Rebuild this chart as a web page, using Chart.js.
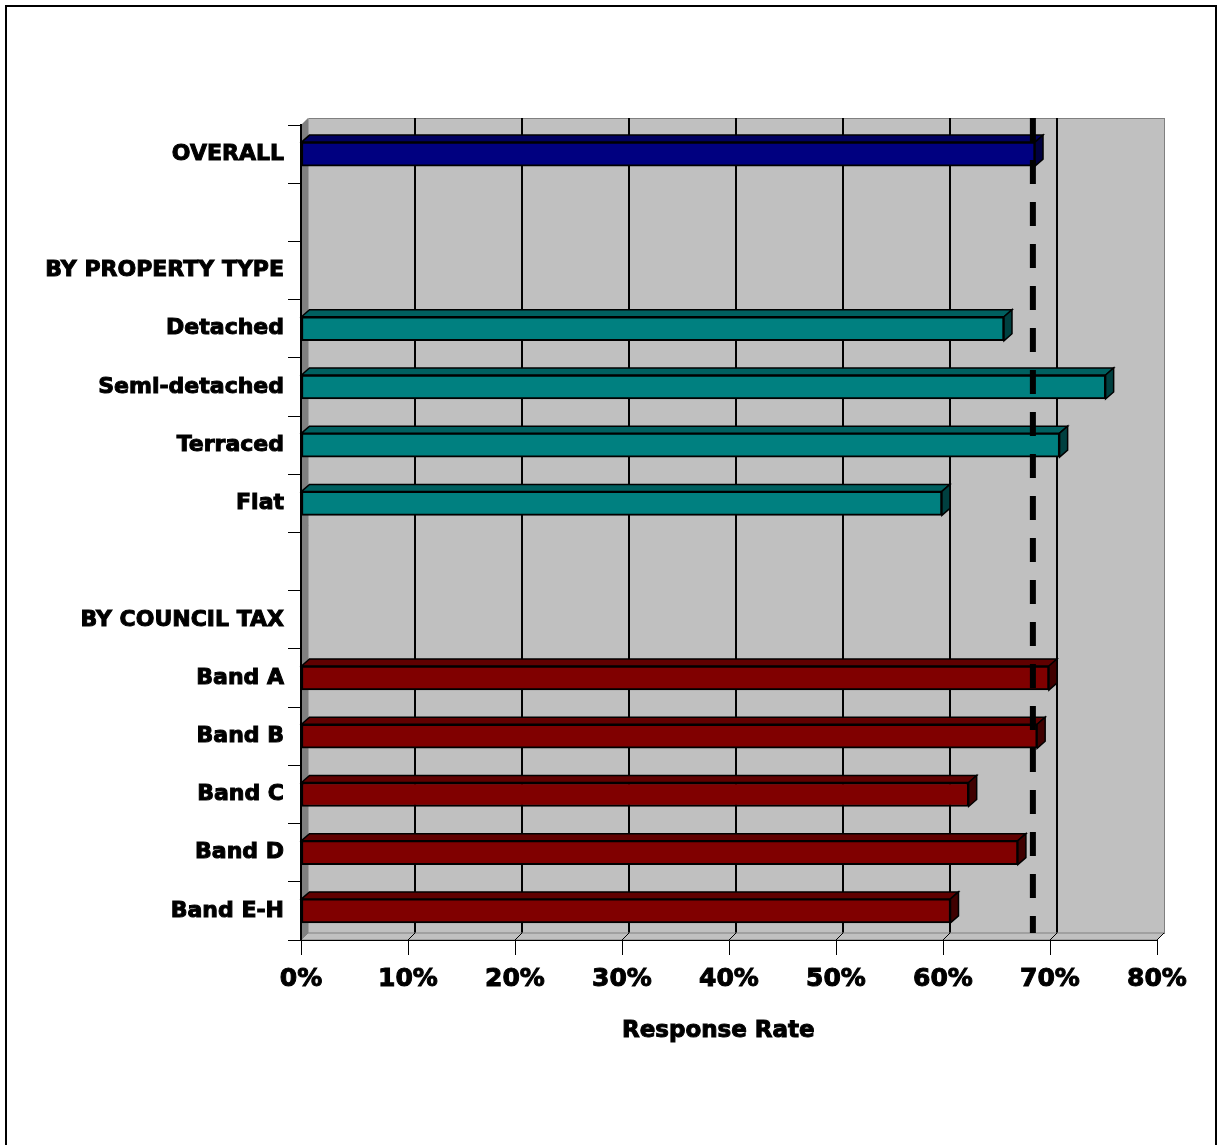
<!DOCTYPE html>
<html>
<head>
<meta charset="utf-8">
<script src="https://cdn.jsdelivr.net/npm/chart.js@4.4.1/dist/chart.umd.min.js"></script>
<style>
  html, body { margin: 0; padding: 0; background: #ffffff; }
  #wrap { width: 1218px; height: 1145px; position: relative; }
</style>
</head>
<body>
<div id="wrap"><canvas id="chart" width="1218" height="1145"></canvas></div>
<script>
// Response rates by group (percent); blank rows separate the sections
const categories = ['OVERALL', '', 'BY PROPERTY TYPE', 'Detached', 'Semi-detached', 'Terraced', 'Flat',
                    '', 'BY COUNCIL TAX', 'Band A', 'Band B', 'Band C', 'Band D', 'Band E-H'];
const responseRates = [68.6, null, null, 65.7, 75.2, 70.9, 59.9, null, null, 69.9, 68.8, 62.4, 67.0, 60.7];
const rowGroups = ['overall', null, null, 'property', 'property', 'property', 'property',
                   null, null, 'tax', 'tax', 'tax', 'tax', 'tax'];
const xTickValues = [0, 10, 20, 30, 40, 50, 60, 70, 80];
const overallRate = 68.4;   // reference line across all rows
const xAxisTitle = 'Response Rate';

// Face colours for the extruded bars: front, top, side
const groupColours = {
  overall:  { front: '#000080', top: '#000060', side: '#000040' },
  property: { front: '#008080', top: '#006060', side: '#004040' },
  tax:      { front: '#800000', top: '#600000', side: '#400000' }
};

const WALL_DX = 7, WALL_DY = 7;   // depth of the plot box
const BAR_DX = 8, BAR_DY = 7;     // depth of each bar
const FONT_FAMILY = "'DejaVu Sans', Verdana, sans-serif";

Chart.defaults.font.family = FONT_FAMILY;
Chart.defaults.color = '#000000';

const boxPlugin = {
  id: 'box3d',
  beforeDraw(chart) {
    const ctx = chart.ctx;
    const { left: L, top: T, right: R, bottom: B } = chart.chartArea;
    const xs = chart.scales.x;
    ctx.save();
    ctx.fillStyle = '#ffffff';
    ctx.fillRect(0, 0, chart.width, chart.height);
    // outer frame
    ctx.strokeStyle = '#000000';
    ctx.lineWidth = 2;
    ctx.strokeRect(6, 6, 1210, 1160);

    // back wall
    ctx.fillStyle = '#c0c0c0';
    ctx.fillRect(L + WALL_DX, T - WALL_DY, R - L, B - T);
    ctx.strokeStyle = '#808080';
    ctx.lineWidth = 1;
    ctx.strokeRect(L + WALL_DX + 0.5, T - WALL_DY + 0.5, R - L, B - T);

    // gridlines on the back wall
    ctx.strokeStyle = '#000000';
    ctx.lineWidth = 2;
    xTickValues.forEach(v => {
      if (v === 0 || v === 80) return;
      const xf = xs.getPixelForValue(v);
      ctx.beginPath();
      ctx.moveTo(xf + WALL_DX, T - WALL_DY);
      ctx.lineTo(xf + WALL_DX, B - WALL_DY);
      ctx.stroke();
    });

    // left side wall
    ctx.fillStyle = '#808080';
    ctx.beginPath();
    ctx.moveTo(L, T); ctx.lineTo(L + WALL_DX, T - WALL_DY);
    ctx.lineTo(L + WALL_DX, B - WALL_DY); ctx.lineTo(L, B);
    ctx.closePath(); ctx.fill();
    ctx.strokeStyle = '#a0a0a0';
    ctx.lineWidth = 1;
    ctx.beginPath();
    ctx.moveTo(L + WALL_DX + 0.5, T - WALL_DY); ctx.lineTo(L + WALL_DX + 0.5, B - WALL_DY);
    ctx.stroke();

    // floor, with the gridline traces running across it
    ctx.fillStyle = '#c0c0c0';
    ctx.beginPath();
    ctx.moveTo(L, B); ctx.lineTo(L + WALL_DX, B - WALL_DY);
    ctx.lineTo(R + WALL_DX, B - WALL_DY); ctx.lineTo(R, B);
    ctx.closePath(); ctx.fill();
    ctx.strokeStyle = '#808080';
    ctx.stroke();
    ctx.strokeStyle = '#000000';
    ctx.lineWidth = 1;
    xTickValues.forEach(v => {
      if (v === 0) return;
      const xf = xs.getPixelForValue(v);
      ctx.beginPath();
      ctx.moveTo(xf, B); ctx.lineTo(xf + WALL_DX, B - WALL_DY);
      ctx.stroke();
    });
    ctx.restore();
  },
  afterDatasetsDraw(chart) {
    const ctx = chart.ctx;
    const { top: T, bottom: B } = chart.chartArea;
    const meta = chart.getDatasetMeta(0);
    ctx.save();
    ctx.lineJoin = 'miter';
    meta.data.forEach((el, i) => {
      if (responseRates[i] == null) return;
      const c = groupColours[rowGroups[i]];
      const { x, y, base, height } = el.getProps(['x', 'y', 'base', 'height'], true);
      const top = y - height / 2, bot = y + height / 2;
      ctx.lineWidth = 1.5;
      ctx.strokeStyle = '#000000';
      // top face
      ctx.fillStyle = c.top;
      ctx.beginPath();
      ctx.moveTo(base, top); ctx.lineTo(base + BAR_DX, top - BAR_DY);
      ctx.lineTo(x + BAR_DX, top - BAR_DY); ctx.lineTo(x, top);
      ctx.closePath(); ctx.fill(); ctx.stroke();
      // end face
      ctx.fillStyle = c.side;
      ctx.beginPath();
      ctx.moveTo(x, top); ctx.lineTo(x + BAR_DX, top - BAR_DY);
      ctx.lineTo(x + BAR_DX, bot - BAR_DY); ctx.lineTo(x, bot);
      ctx.closePath(); ctx.fill(); ctx.stroke();
    });

    // dashed reference line at the overall rate
    const xd = chart.scales.x.getPixelForValue(overallRate);
    ctx.strokeStyle = '#000000';
    ctx.lineWidth = 6;
    ctx.lineCap = 'butt';
    ctx.setLineDash([24, 18]);
    ctx.beginPath();
    ctx.moveTo(xd, T - WALL_DY);
    ctx.lineTo(xd, B - WALL_DY);
    ctx.stroke();
    ctx.restore();
  },
  afterDraw(chart) {
    // axis title, drawn with the same weight as the tick labels
    const ctx = chart.ctx;
    const xs = chart.scales.x;
    ctx.save();
    ctx.font = 'bold 23px ' + FONT_FAMILY;
    ctx.textAlign = 'center';
    ctx.textBaseline = 'middle';
    ctx.fillStyle = '#000000';
    ctx.strokeStyle = '#000000';
    ctx.lineWidth = 1;
    const tx = xs.getPixelForValue(39);
    ctx.fillText(xAxisTitle, tx, 1031);
    ctx.strokeText(xAxisTitle, tx, 1031);
    ctx.restore();
  }
};

new Chart(document.getElementById('chart'), {
  type: 'bar',
  data: {
    labels: categories,
    datasets: [{
      data: responseRates,
      backgroundColor: rowGroups.map(g => g ? groupColours[g].front : 'transparent'),
      borderColor: '#000000',
      borderWidth: 2,
      borderSkipped: false,
      barThickness: 24
    }]
  },
  options: {
    indexAxis: 'y',
    responsive: false,
    animation: false,
    devicePixelRatio: 1,
    layout: { padding: { left: 0, top: 125, right: 61, bottom: 0 } },
    plugins: { legend: { display: false }, tooltip: { enabled: false } },
    scales: {
      x: {
        min: 0, max: 80,
        afterFit(scale) { scale.height = 205; },
        afterBuildTicks(scale) { scale.ticks = xTickValues.map(v => ({ value: v })); },
        grid: { drawOnChartArea: false, drawTicks: true, tickLength: 15, color: '#000000', lineWidth: 1 },
        border: { display: true, color: '#000000', width: 1 },
        ticks: {
          padding: 9,
          color: '#000000',
          textStrokeColor: '#000000',
          textStrokeWidth: 1,
          font: { size: 25, weight: 'bold' },
          callback: v => v + '%'
        },
        title: { display: false }
      },
      y: {
        afterFit(scale) { scale.width = 301; },
        offset: true,
        grid: { drawOnChartArea: false, drawTicks: true, tickLength: 13, color: '#000000', lineWidth: 1, offset: true },
        border: { display: true, color: '#000000', width: 2 },
        ticks: {
          autoSkip: false,
          padding: 4,
          color: '#000000',
          textStrokeColor: '#000000',
          textStrokeWidth: 1,
          font: { size: 22, weight: 'bold' }
        }
      }
    }
  },
  plugins: [boxPlugin]
});
</script>
</body>
</html>
